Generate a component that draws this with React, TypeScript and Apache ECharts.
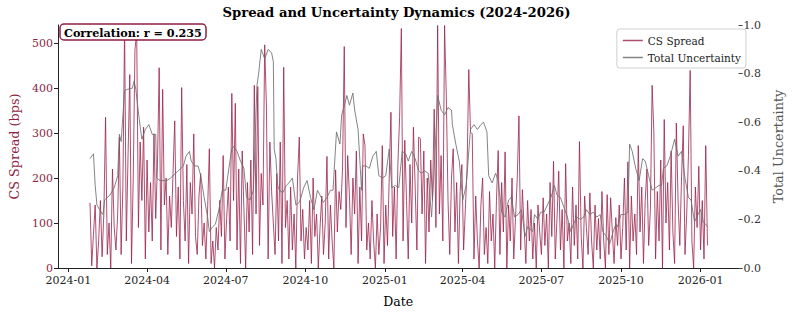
import React, { useEffect, useRef } from "react";
import * as echarts from "echarts";

// ---- Data ----
const dayMs = 86400000;
const baseDate = Date.UTC(2024, 0, 1); // day offsets are counted from 2024-01-01

const spreadStartDay = 25; // 2024-01-26
const spreadStepDays = 2;
const spreadValues: number[] = [
  145, 5, 75, 140, 0, 60, 150, 25, 120, 335, 30, 100, 0, 220, 90, 40,
  120, 291, 30, 180, 535, 60, 250, 430, 10, 200, 485, 525, 90, 280, 150, 313, 20, 240, 80, 190,
  60, 298, 110, 230, 445, 40, 397, 140, 200, 30, 160, 90, 210, 327, 70,
  180, 20, 401, 150, 60, 230, 10, 190, 120, 298, 70, 30, 160, 210, 50,
  100, 20, 130, 265, 10, 60, 0, 90, 40, 150, 70, 250, 20, 110, 180,
  60, 388, 150, 366, 40, 220, 10, 260, 130, 0, 190, 80, 240, 30, 406, 120, 403, 50, 210, 140, 496, 360, 20, 280, 170,
  100, 30, 210, 60, 280, 10, 446, 90, 150, 20, 180, 40, 120, 0, 200, 291, 60, 130, 20, 90,
  40, 150, 10, 200, 70, 120, 0, 90, 160, 30, 100, 248, 20, 140, 60, 0, 218, 80, 170, 130,
  220, 492, 90, 250, 160, 30, 200, 120, 260, 10, 180, 60, 298, 272, 40,
  100, 20, 150, 60, 0, 120, 30, 90, 272, 10, 140, 50, 200, 346, 70, 180, 20, 230, 335, 532,
  60, 284, 150, 20, 230, 100, 313, 180, 40, 291, 287, 120, 260, 10, 200, 80, 240, 150, 353, 90,
  539, 120, 250, 60, 539, 382, 150, 30, 200, 265, 80, 190, 10, 170, 230,
  40, 130, 220, 441, 302, 298, 20, 160, 60, 0, 140, 200, 30, 90, 10, 170, 60, 120, 0, 150,
  261, 30, 190, 80, 258, 0, 140, 60, 200, 20, 110, 197, 338, 40, 174,
  90, 10, 150, 60, 130, 20, 100, 0, 140, 80, 30, 156, 50, 120, 0, 190, 70, 237, 20, 110,
  215, 40, 130, 0, 232, 60, 100, 10, 180, 50, 140, 20, 281, 70, 0, 160, 90, 30, 167, 60,
  0, 140, 40, 110, 20, 170, 60, 0, 163, 30, 156, 80, 10, 112, 50,
  140, 20, 90, 200, 40, 236, 0, 160, 60, 120, 30, 272, 80, 180, 10, 150, 220, 50, 130, 406,
  302, 20, 170, 60, 240, 0, 330, 100, 190, 40, 260, 80, 10, 322, 150, 50, 200, 316, 30, 120,
  250, 439, 60, 0, 180, 90, 226, 40, 150, 20, 272, 50,
];

// [day offset, total uncertainty]
const uncertaintyPoints: [number, number][] = [
  [25, 0.45], [29, 0.47], [31, 0.34], [33, 0.26], [36, 0.24], [40, 0.22], [42, 0.28], [48, 0.3],
  [53, 0.33], [57, 0.38], [59, 0.55], [61, 0.52], [65, 0.73], [68, 0.735], [74, 0.74], [76, 0.77],
  [78, 0.735], [82, 0.61], [85, 0.53], [89, 0.57], [93, 0.59], [97, 0.55], [101, 0.55], [102, 0.37],
  [106, 0.36], [110, 0.36], [114, 0.36], [118, 0.37], [121, 0.38], [127, 0.4], [133, 0.42], [136, 0.46],
  [140, 0.48], [142, 0.44], [146, 0.42], [150, 0.42], [153, 0.38], [157, 0.29], [161, 0.21], [163, 0.15],
  [167, 0.17], [170, 0.18], [174, 0.24], [178, 0.32], [182, 0.32], [186, 0.42], [189, 0.49], [191, 0.5],
  [195, 0.48], [199, 0.44], [203, 0.41], [206, 0.29], [210, 0.28], [214, 0.32], [218, 0.75], [220, 0.8],
  [223, 0.9], [227, 0.86], [231, 0.9], [235, 0.885], [237, 0.85], [238, 0.49], [240, 0.45], [242, 0.34],
  [244, 0.32], [248, 0.31], [252, 0.34], [255, 0.35], [259, 0.37], [263, 0.26], [267, 0.27], [269, 0.29],
  [272, 0.33], [276, 0.36], [280, 0.29], [284, 0.24], [288, 0.32], [291, 0.3], [295, 0.27], [299, 0.29],
  [303, 0.32], [306, 0.32], [310, 0.56], [314, 0.51], [316, 0.63], [320, 0.68], [322, 0.71], [325, 0.67],
  [329, 0.72], [331, 0.65], [333, 0.61], [335, 0.57], [339, 0.32], [340, 0.42], [344, 0.42], [348, 0.41],
  [352, 0.46], [356, 0.48], [359, 0.38], [363, 0.37], [367, 0.38], [371, 0.49], [374, 0.33], [378, 0.34],
  [382, 0.33], [386, 0.48], [390, 0.47], [393, 0.44], [397, 0.48], [401, 0.45], [405, 0.4], [408, 0.39],
  [412, 0.4], [416, 0.39], [420, 0.21], [424, 0.48], [427, 0.71], [431, 0.65], [435, 0.63], [439, 0.66],
  [443, 0.65], [444, 0.59], [448, 0.51], [452, 0.44], [456, 0.28], [460, 0.34], [463, 0.48], [465, 0.57],
  [469, 0.59], [473, 0.57], [477, 0.59], [480, 0.6], [484, 0.56], [486, 0.38], [490, 0.35], [494, 0.39],
  [497, 0.36], [501, 0.23], [505, 0.21], [509, 0.28], [512, 0.29], [516, 0.21], [520, 0.22], [524, 0.24],
  [528, 0.13], [531, 0.17], [537, 0.15], [539, 0.22], [543, 0.2], [546, 0.23], [550, 0.23], [554, 0.26],
  [558, 0.29], [562, 0.34], [565, 0.3], [569, 0.29], [573, 0.25], [577, 0.21], [581, 0.15], [584, 0.18],
  [588, 0.21], [592, 0.2], [596, 0.21], [599, 0.24], [603, 0.22], [607, 0.23], [611, 0.21], [615, 0.22],
  [618, 0.15], [622, 0.13], [626, 0.1], [630, 0.15], [633, 0.18], [635, 0.17], [639, 0.22], [643, 0.22],
  [647, 0.23], [649, 0.51], [652, 0.48], [656, 0.41], [660, 0.36], [664, 0.45], [667, 0.44], [671, 0.38],
  [675, 0.32], [679, 0.33], [683, 0.34], [686, 0.34], [688, 0.41], [692, 0.42], [696, 0.46], [701, 0.53],
  [705, 0.46], [709, 0.48], [713, 0.37], [717, 0.29], [720, 0.28], [724, 0.19], [728, 0.22], [731, 0.24],
  [734, 0.19], [737, 0.18], [739, 0.17],
];

const dateTicks = ["2024-01", "2024-04", "2024-07", "2024-10", "2025-01", "2025-04", "2025-07", "2025-10", "2026-01"];
const spreadTicks = [0, 100, 200, 300, 400, 500];
const correlationText = "Correlation: r = 0.235";

const CRIMSON = "#8E1F43";
const SPREAD_LINE = "rgba(155, 35, 75, 0.8)";
const UNC_LINE = "rgba(110, 110, 110, 0.85)";
const FONT = "DejaVu Serif";

const toTs = (d: number) => baseDate + d * dayMs;
const tickTs = dateTicks.map((s) => {
  const [y, m] = s.split("-").map(Number);
  return Date.UTC(y, m - 1, 1);
});

export default function App() {
  const ref = useRef<HTMLDivElement>(null);
  useEffect(() => {
    document.body.style.margin = "0";
    if (!ref.current) return;
    const chart = echarts.init(ref.current, undefined, { renderer: "svg" });
    const spreadData = spreadValues.map((v, i) => [toTs(spreadStartDay + i * spreadStepDays), v]);
    const uncData = uncertaintyPoints.map(([d, v]) => [toTs(d), v]);
    chart.setOption({
      animation: false,
      backgroundColor: "#fff",
      textStyle: { fontFamily: FONT },
      title: [
        {
          text: "Spread and Uncertainty Dynamics (2024-2026)",
          left: "center",
          top: 1,
          textStyle: { fontFamily: FONT, fontWeight: "bold", fontSize: 13.2, color: "#000" },
        },
        {
          text: correlationText,
          left: 60,
          top: 24,
          padding: [3, 4, 2, 4],
          borderColor: CRIMSON,
          borderWidth: 1.5,
          borderRadius: 4,
          backgroundColor: "#fff",
          textStyle: { fontFamily: FONT, fontWeight: "bold", fontSize: 11.2, color: "#000" },
          z: 20,
        },
      ],
      legend: {
        orient: "vertical",
        right: 47,
        top: 29,
        icon: "rect",
        itemWidth: 20,
        itemHeight: 1.5,
        itemGap: 6,
        padding: [6, 5, 5, 6],
        borderColor: "#d0d0d0",
        borderWidth: 1,
        borderRadius: 3,
        backgroundColor: "rgba(255,255,255,0.85)",
        textStyle: { fontFamily: FONT, fontSize: 10.5, color: "#222" },
        data: ["CS Spread", "Total Uncertainty"],
      },
      grid: { left: 51, right: 46, top: 25, bottom: 42, containLabel: false },
      xAxis: {
        type: "value",
        min: Date.UTC(2023, 11, 20),
        max: Date.UTC(2026, 1, 14),
        name: "Date",
        nameLocation: "middle",
        nameGap: 27,
        nameTextStyle: { fontFamily: FONT, fontSize: 12.5, color: "#000" },
        axisLine: { show: true, lineStyle: { color: "#222", width: 1 } },
        axisTick: { show: true, customValues: tickTs, length: 4, lineStyle: { color: "#222" } },
        axisLabel: {
          customValues: tickTs,
          fontFamily: FONT,
          fontSize: 11,
          color: "#222",
          margin: 7,
          formatter: (v: number) => {
            const d = new Date(v);
            return `${d.getUTCFullYear()}-${String(d.getUTCMonth() + 1).padStart(2, "0")}`;
          },
        },
        splitLine: { show: false },
      },
      yAxis: [
        {
          type: "value",
          min: 0,
          max: 540,
          name: "CS Spread (bps)",
          nameLocation: "middle",
          nameGap: 37,
          nameTextStyle: { fontFamily: FONT, fontSize: 12.8, color: CRIMSON },
          axisLine: { show: true, lineStyle: { color: "#222", width: 1 } },
          axisTick: { show: true, customValues: spreadTicks, length: 4, lineStyle: { color: "#222" } },
          axisLabel: { customValues: spreadTicks, fontFamily: FONT, fontSize: 11, color: CRIMSON, margin: 5 },
          splitLine: { show: false },
        },
        {
          type: "value",
          min: 0,
          max: 1,
          interval: 0.2,
          name: "Total Uncertainty",
          nameLocation: "middle",
          nameGap: 33,
          nameTextStyle: { fontFamily: FONT, fontSize: 12.8, color: "#555" },
          axisLine: { show: false },
          axisTick: { show: true, length: 4, lineStyle: { color: "#444" } },
          axisLabel: {
            fontFamily: FONT,
            fontSize: 11,
            color: "#333",
            margin: 5,
            formatter: (v: number) => v.toFixed(1),
          },
          splitLine: { show: false },
        },
      ],
      series: [
        {
          name: "CS Spread",
          type: "line",
          yAxisIndex: 0,
          data: spreadData,
          symbol: "none",
          lineStyle: { color: SPREAD_LINE, width: 1 },
          itemStyle: { color: SPREAD_LINE },
          z: 2,
        },
        {
          name: "Total Uncertainty",
          type: "line",
          yAxisIndex: 1,
          data: uncData,
          symbol: "none",
          lineStyle: { color: UNC_LINE, width: 1 },
          itemStyle: { color: UNC_LINE },
          z: 3,
        },
      ],
    });
    return () => chart.dispose();
  }, []);
  return <div ref={ref} style={{ width: 793, height: 313 }} />;
}
